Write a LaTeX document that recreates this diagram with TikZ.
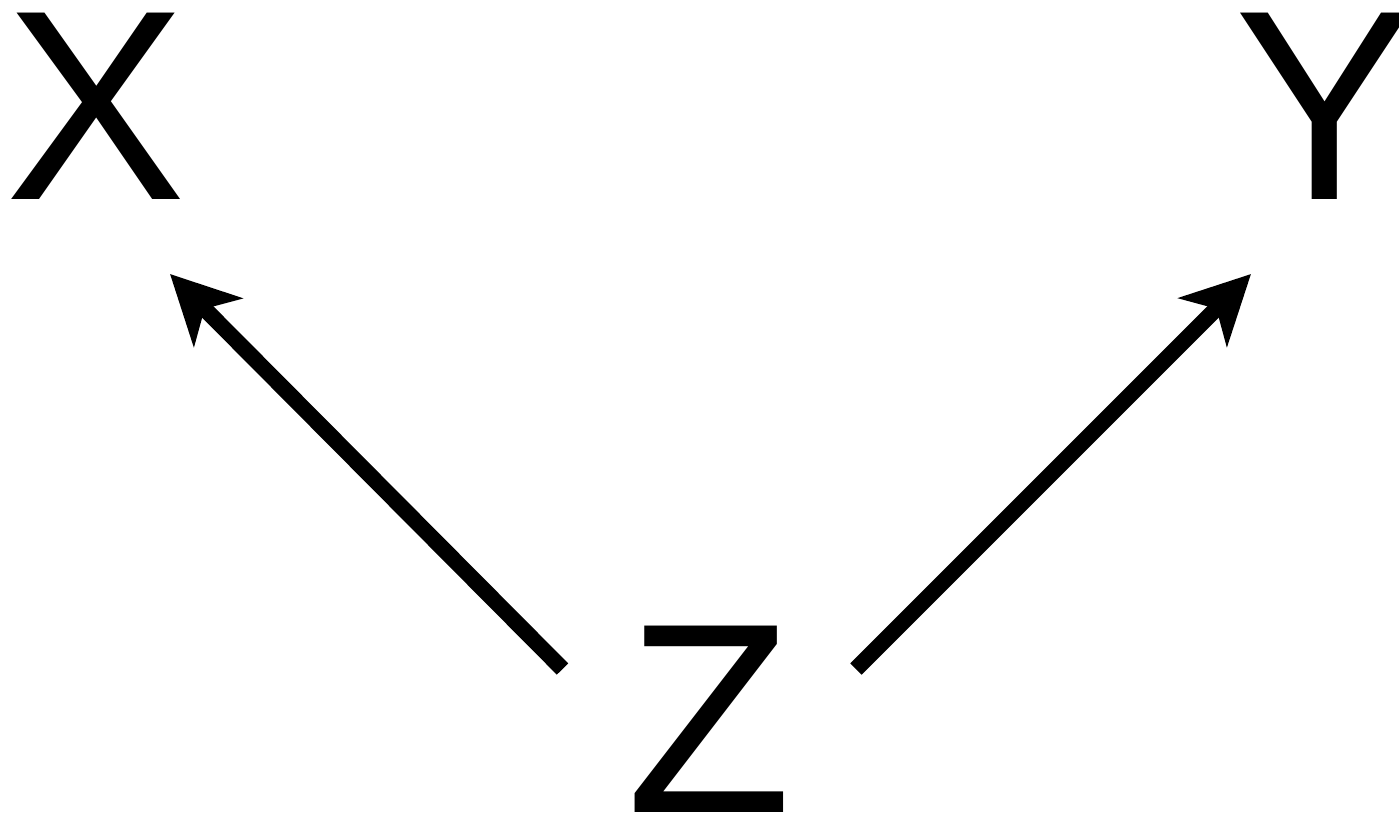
\documentclass[tikz,border=0pt]{standalone}
\usepackage{fontspec}
\setmainfont{Liberation Sans}
\usetikzlibrary{arrows.meta}
\begin{document}
\begin{tikzpicture}[x=1pt,y=-1pt,
  letter/.style={inner sep=0pt, anchor=base, font=\fontsize{271}{271}\selectfont},
  conn/.style={line width=16pt, -{Stealth[length=68pt, width=68pt, inset=19pt]}}]
\useasboundingbox (0,0) rectangle (1399,815);
\node[letter] (X) at (95.5,199) {X};
\node[letter] (Y) at (1324.5,199) {Y};
\node[letter] (Z) at (709.5,812) {Z};
\coordinate (zl) at (562.5,669);
\coordinate (zr) at (856,669);
\coordinate (xt) at (170,274);
\coordinate (yt) at (1251,274);
\draw[conn] (zl) -- (xt);
\draw[conn] (zr) -- (yt);
\end{tikzpicture}
\end{document}
